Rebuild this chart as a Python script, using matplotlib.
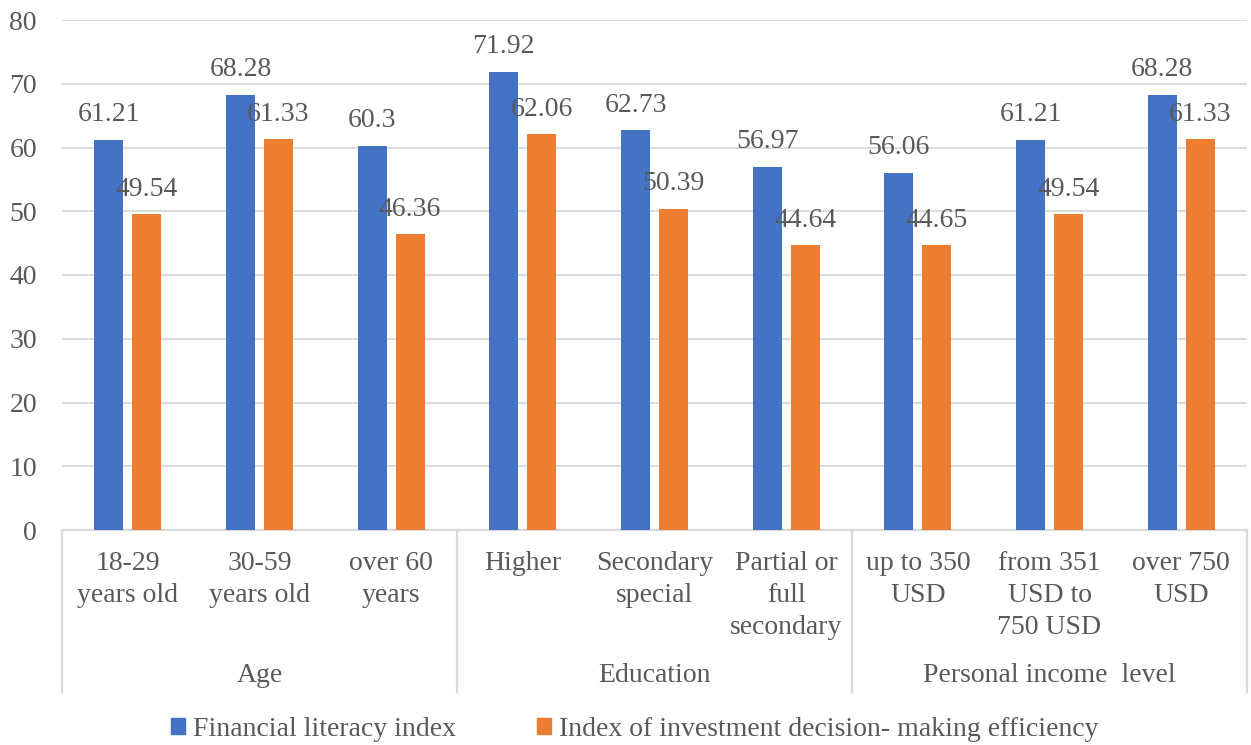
import matplotlib
matplotlib.use("Agg")
import matplotlib.pyplot as plt
from matplotlib.patches import Patch
import numpy as np

categories = ["18-29\nyears old", "30-59\nyears old", "over 60\nyears",
              "Higher", "Secondary\nspecial", "Partial or\nfull\nsecondary",
              "up to 350\nUSD", "from 351\nUSD to\n750 USD", "over 750\nUSD"]
groups = ["Age", "Education", "Personal income  level"]
group_sizes = [3, 3, 3]
financial_literacy = [61.21, 68.28, 60.3, 71.92, 62.73, 56.97, 56.06, 61.21, 68.28]
investment_efficiency = [49.54, 61.33, 46.36, 62.06, 50.39, 44.64, 44.65, 49.54, 61.33]
series_names = ["Financial literacy index", "Index of investment decision- making efficiency"]
yticks = [0, 10, 20, 30, 40, 50, 60, 70, 80]

plt.rcParams['font.family'] = ['Liberation Serif', 'DejaVu Serif']
TXT = '#595959'
GRID = '#d9d9d9'
BLUE = '#4472C4'
ORANGE = '#ED7D31'
FS = 20

W, H = 1251, 745
fig = plt.figure(figsize=(W / 100, H / 100), dpi=100)
left, right, top, bottom = 62, 1247, 20, 530
ax = fig.add_axes([left / W, 1 - bottom / H, (right - left) / W, (bottom - top) / H])

x = np.arange(len(categories))
bw = 0.22
off = 0.144
ax.bar(x - off, financial_literacy, bw, color=BLUE, zorder=3)
ax.bar(x + off, investment_efficiency, bw, color=ORANGE, zorder=3)

for xi, v in zip(x, financial_literacy):
    ax.annotate(f"{v:g}", xy=(xi - off, v), xytext=(0, 18), textcoords='offset points',
                ha='center', va='center', fontsize=FS, color=TXT, zorder=4)
for xi, v in zip(x, investment_efficiency):
    ax.annotate(f"{v:g}", xy=(xi + off, v), xytext=(0, 18), textcoords='offset points',
                ha='center', va='center', fontsize=FS, color=TXT, zorder=4)

ax.set_xlim(-0.5, len(categories) - 0.5)
ax.set_ylim(0, 80)
ax.set_yticks(yticks)
ax.set_yticklabels([str(t) for t in yticks])
ax.tick_params(axis='y', length=0, pad=18, labelsize=FS, labelcolor=TXT)
ax.set_xticks([])
ax.grid(axis='y', color=GRID, linewidth=1.3, zorder=0)
for s in ['top', 'right', 'left']:
    ax.spines[s].set_visible(False)
ax.spines['bottom'].set_color(GRID)
ax.spines['bottom'].set_linewidth(1.6)

trans = ax.get_xaxis_transform()
ah = bottom - top
for xi, c in zip(x, categories):
    ax.text(xi, -21 / ah, c, transform=trans, ha='center', va='top',
            fontsize=FS, color=TXT, linespacing=1.38)

bounds = np.concatenate([[0], np.cumsum(group_sizes)]) - 0.5
for b in bounds:
    ax.plot([b, b], [0, -(692 - bottom) / ah], transform=trans, color=GRID,
            linewidth=1.6, clip_on=False)
for g, a, b in zip(groups, bounds[:-1], bounds[1:]):
    ax.text((a + b) / 2, -(676 - bottom) / ah, g, transform=trans, ha='center',
            va='center', fontsize=FS, color=TXT)

handles = [Patch(color=BLUE), Patch(color=ORANGE)]
fig.legend(handles, series_names, loc='center', bbox_to_anchor=(635 / W, 1 - 729 / H),
           ncol=2, frameon=False, fontsize=FS, labelcolor=TXT,
           handlelength=0.5, handleheight=0.5, handletextpad=0.3, columnspacing=2.9)

fig.savefig("out.png", dpi=100)
